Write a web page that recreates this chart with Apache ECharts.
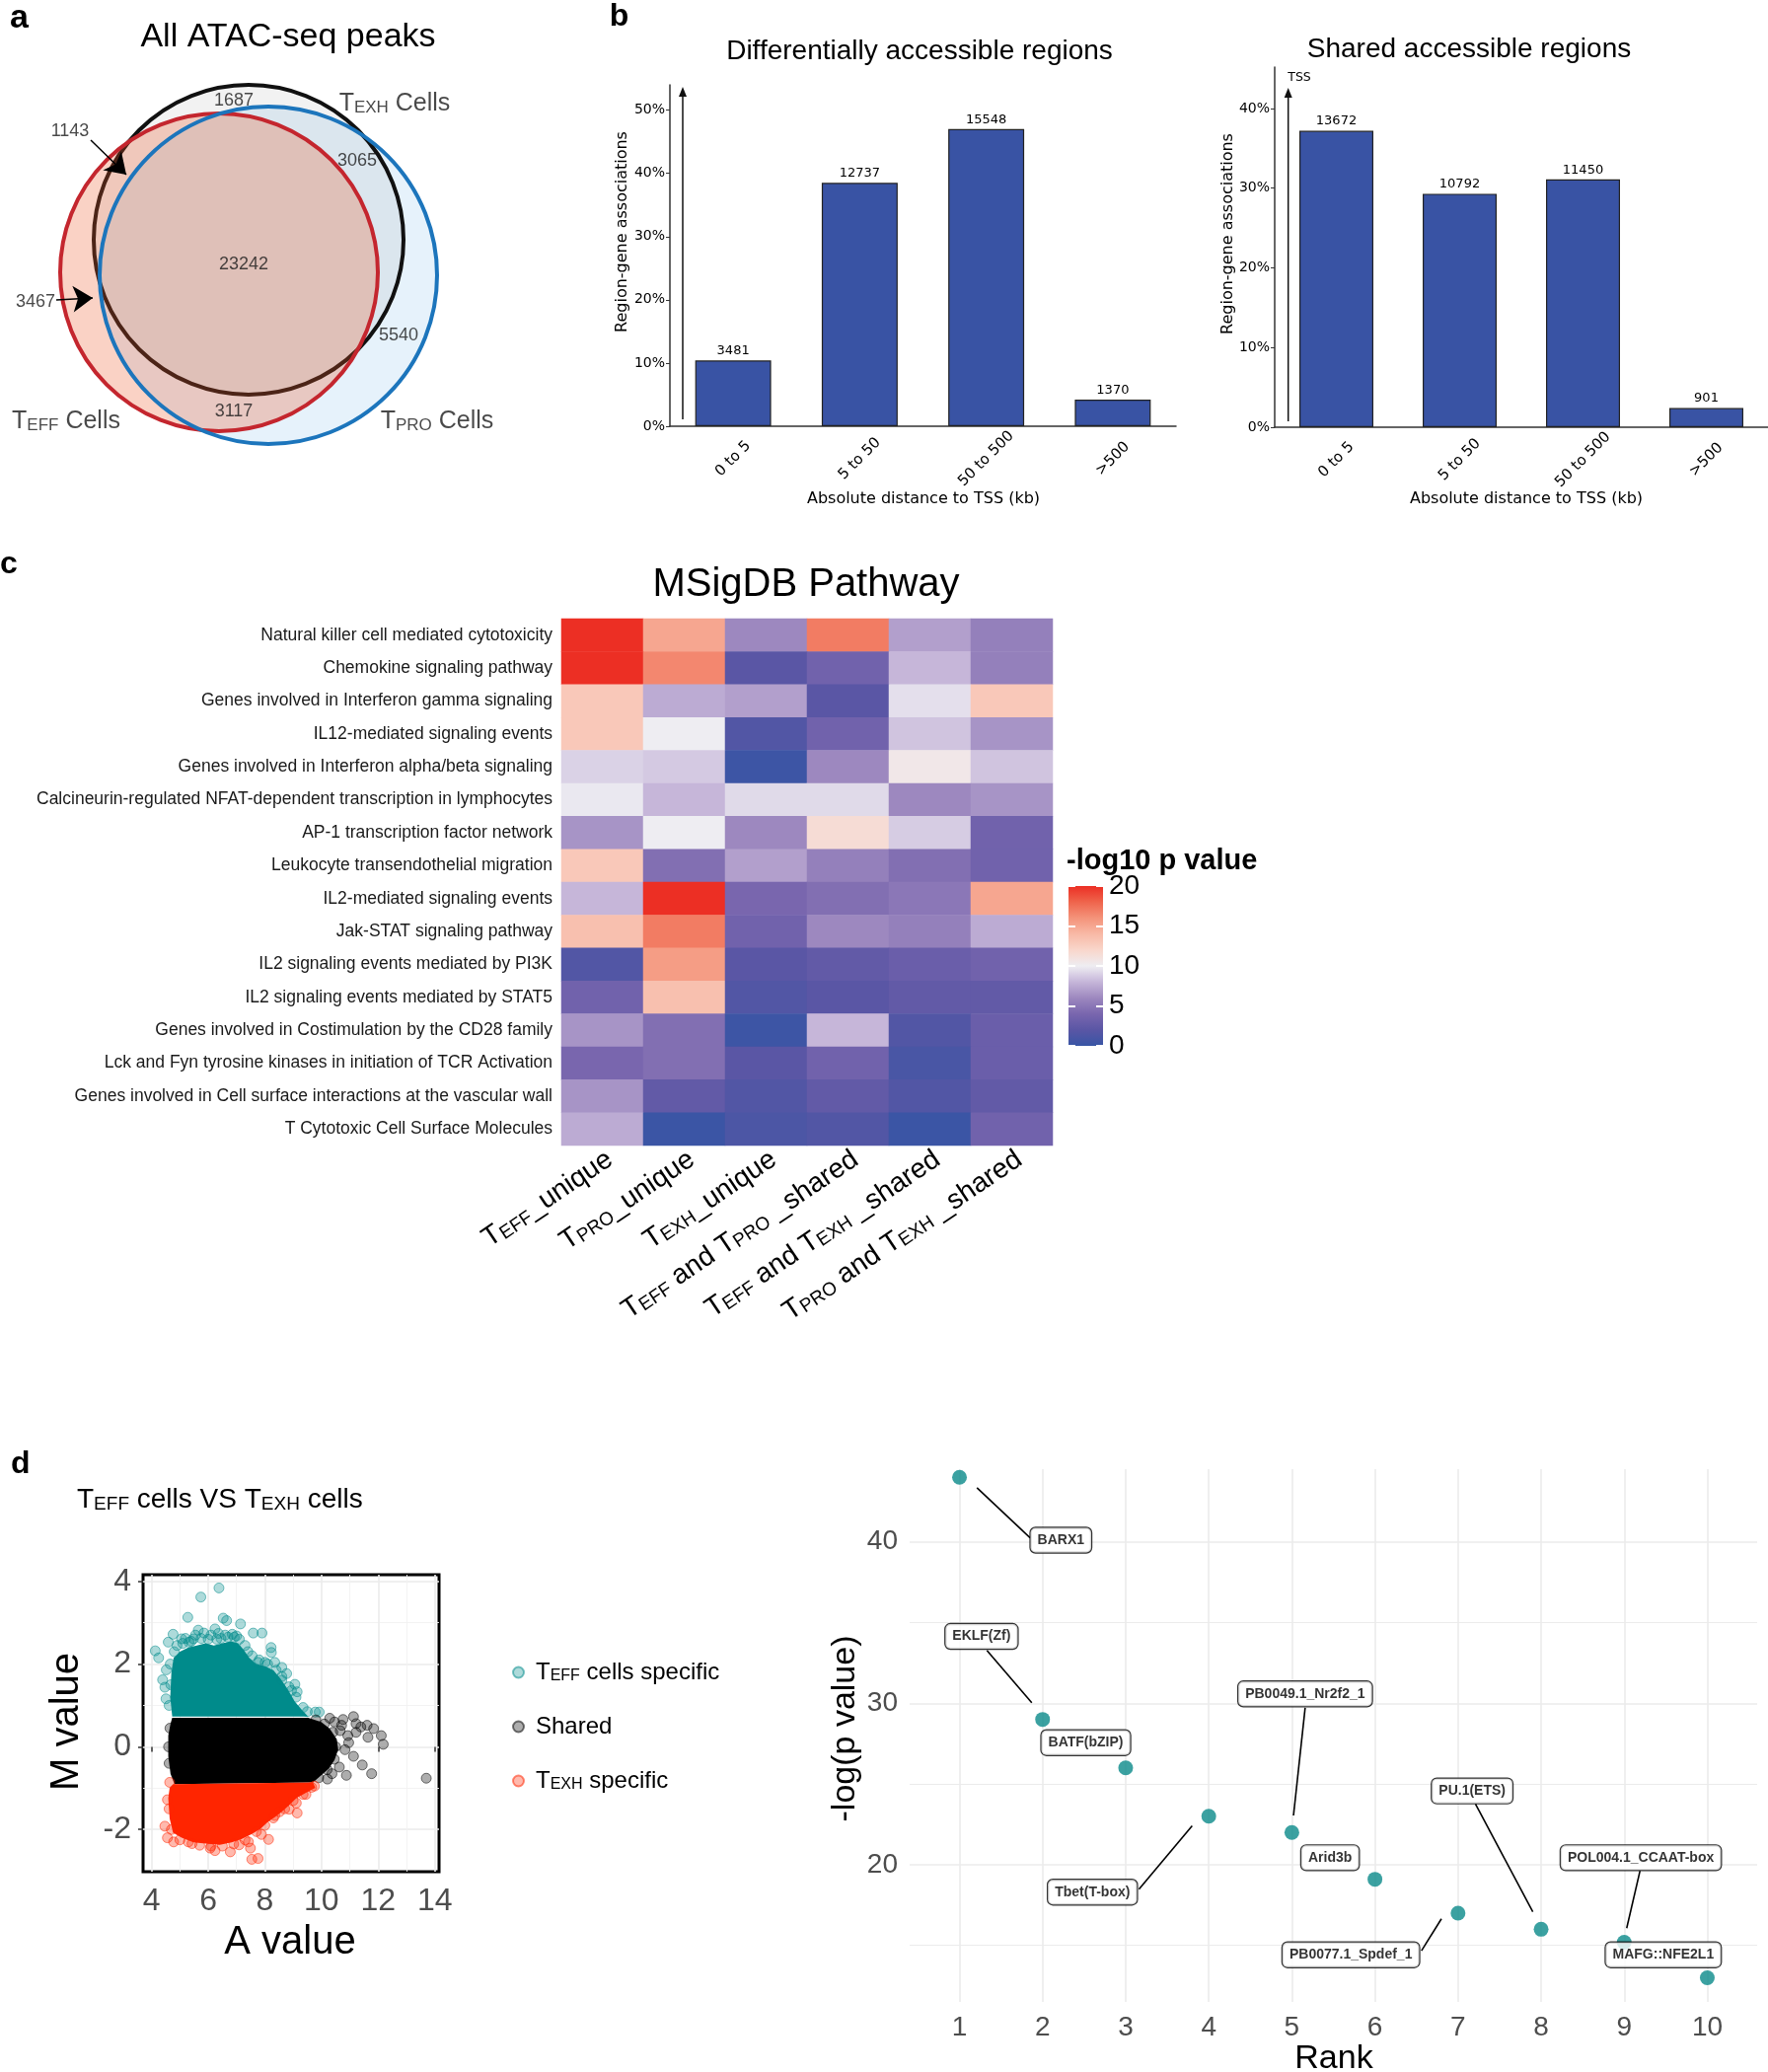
<!DOCTYPE html>
<html>
<head>
<meta charset="utf-8">
<title>ATAC-seq figure</title>
<script src="https://cdn.jsdelivr.net/npm/echarts@6.0.0/dist/echarts.min.js"></script>
<style>
html,body{margin:0;padding:0;background:#ffffff;}
#chart{width:1792px;height:2100px;}
</style>
</head>
<body>
<div id="chart"></div>
<script>
// ================= DATA =================
// ---- Panel a: Venn diagram (units of a 0..100 venn canvas) ----
const vennSets = ['TEXH', 'TEFF', 'TPRO'];
const vennCx = [50.4, 44.4, 54.4];
const vennCy = [59.4, 52.8, 52.2];
const vennR = [31.4, 32.2, 34.2];
const vennCounts = ['1687', '1143', '3065', '23242', '3467', '5540', '3117'];
const vennCountX = [47.4, 14.2, 72.4, 49.4, 7.2, 80.8, 47.4];
const vennCountY = [87.6, 81.4, 75.4, 54.4, 46.8, 40.0, 24.6];
const vennSetLabels = ['T<EXH> Cells', 'T<EFF> Cells', 'T<PRO> Cells'];
const vennSetLabelX = [80.0, 13.4, 88.6];
const vennSetLabelY = [87.0, 22.6, 22.6];
const vennArrows = [[18.4, 79.6, 25.6, 72.6], [11.4, 47.2, 18.8, 47.6]];

// ---- Panel b: distance to TSS ----
const distCats = ['0 to 5', '5 to 50', '50 to 500', '>500'];
const darPct = [10.4, 38.5, 47.0, 4.2];
const darCounts = [3481, 12737, 15548, 1370];
const sharedPct = [37.2, 29.3, 31.1, 2.4];
const sharedCounts = [13672, 10792, 11450, 901];
const darYTicks = [0, 10, 20, 30, 40, 50];
const sharedYTicks = [0, 10, 20, 30, 40];

// ---- Panel c: MSigDB pathway heatmap ----
const pathways = [
  'Natural killer cell mediated cytotoxicity',
  'Chemokine signaling pathway',
  'Genes involved in Interferon gamma signaling',
  'IL12-mediated signaling events',
  'Genes involved in Interferon alpha/beta signaling',
  'Calcineurin-regulated NFAT-dependent transcription in lymphocytes',
  'AP-1 transcription factor network',
  'Leukocyte transendothelial migration',
  'IL2-mediated signaling events',
  'Jak-STAT signaling pathway',
  'IL2 signaling events mediated by PI3K',
  'IL2 signaling events mediated by STAT5',
  'Genes involved in Costimulation by the CD28 family',
  'Lck and Fyn tyrosine kinases in initiation of TCR Activation',
  'Genes involved in Cell surface interactions at the vascular wall',
  'T Cytotoxic Cell Surface Molecules'
];
const peakGroups = [
  'T<EFF>_unique', 'T<PRO>_unique', 'T<EXH>_unique',
  'T<EFF> and T<PRO> _shared', 'T<EFF> and T<EXH> _shared', 'T<PRO> and T<EXH> _shared'
];
const heatValues = [
  [20.0, 15.0, 6.0, 17.0, 7.0, 5.5],
  [20.0, 16.5, 2.0, 3.5, 8.0, 5.5],
  [13.0, 7.5, 7.0, 2.0, 9.5, 13.0],
  [13.0, 10.0, 1.5, 3.5, 8.5, 6.5],
  [9.0, 8.7, 0.3, 6.0, 10.5, 8.5],
  [9.8, 8.0, 9.3, 9.3, 6.0, 6.5],
  [6.5, 10.0, 6.0, 11.5, 8.8, 3.5],
  [13.0, 4.5, 7.0, 5.5, 4.5, 3.5],
  [8.0, 20.0, 4.0, 4.5, 5.0, 15.0],
  [13.5, 17.0, 3.5, 6.0, 5.5, 7.5],
  [1.5, 15.5, 2.0, 2.5, 3.0, 3.5],
  [3.5, 13.5, 1.5, 2.0, 2.5, 2.5],
  [6.5, 4.5, 0.3, 8.0, 1.5, 3.0],
  [4.0, 4.5, 2.0, 3.5, 1.0, 3.0],
  [6.5, 2.5, 1.5, 2.5, 1.5, 2.5],
  [7.5, 0.2, 1.2, 1.5, 0.2, 3.5]
];
const heatMin = 0, heatMax = 20;

// ---- Panel d (left): MA plot, dense clouds outlined + sparse / edge points ----
const teffCloud = [[4.73,0.73],[4.66,1.2],[4.70,1.8],[4.78,2.15],[5.0,2.3],[5.3,2.4],[5.6,2.45],[5.9,2.5],[6.2,2.45],[6.5,2.5],[6.8,2.55],[7.05,2.5],[7.25,2.35],[7.45,2.15],[7.7,2.0],[8.0,1.95],[8.3,1.85],[8.55,1.65],[8.8,1.4],[9.05,1.1],[9.3,0.9],[9.53,0.73]];
const sharedCloud = [[4.73,0.70],[9.53,0.70],[9.99,0.60],[10.29,0.44],[10.54,0.18],[10.59,-0.07],[10.46,-0.32],[10.26,-0.53],[9.99,-0.69],[9.70,-0.86],[4.81,-0.90],[4.67,-0.65],[4.59,-0.23],[4.59,0.27],[4.67,0.56]];
const texhCloud = [[4.76,-0.90],[9.70,-0.86],[9.78,-0.99],[9.45,-1.11],[9.11,-1.24],[8.86,-1.41],[8.60,-1.57],[8.35,-1.70],[8.10,-1.82],[7.84,-1.99],[7.51,-2.12],[7.17,-2.23],[6.83,-2.31],[6.41,-2.37],[5.91,-2.34],[5.48,-2.31],[5.06,-2.20],[4.76,-2.08],[4.64,-1.74],[4.59,-1.24],[4.64,-0.99]];
const teffPoints = [[4.13,2.32],[4.25,2.15],[4.39,1.62],[4.51,1.16],[4.59,2.53],[4.76,2.72],[5.28,3.13],[5.74,3.62],[6.38,3.84],[6.53,3.11],[6.65,3.05],[7.14,2.97],[7.59,2.75],[7.90,2.75],[8.22,2.40],[8.23,2.28],[8.35,2.04],[8.60,1.92],[8.60,1.61],[9.06,1.51],[9.14,1.33],[9.78,0.84],[9.92,0.84],[5.48,2.61],[5.65,2.82],[6.24,2.85],[6.36,2.74],[5.06,2.61],[5.32,2.53],[6.92,2.65],[7.76,2.04],[8.01,2.04],[8.77,1.77],[8.94,1.36],[4.47,1.44],[4.52,1.86],
  [4.8,2.3],[4.9,2.45],[5.1,2.5],[5.2,2.62],[5.4,2.55],[5.55,2.7],[5.75,2.62],[5.85,2.75],[6.0,2.6],[6.1,2.7],[6.3,2.6],[6.45,2.62],[6.6,2.7],[6.7,2.65],[6.85,2.72],[7.0,2.68],[7.1,2.6],[7.3,2.45],[7.4,2.3],[7.55,2.2],[7.8,2.1],[8.1,2.0],[8.4,1.85],[8.6,1.7],[8.85,1.45],[9.1,1.2],[9.35,0.95],[9.5,0.85],[4.68,1.5],[4.62,1.0],[4.66,2.0]];
const sharedPoints = [[10.29,0.69],[10.76,0.66],[11.13,0.73],[11.22,0.56],[11.61,0.52],[11.84,0.44],[12.11,0.27],[12.18,0.06],[11.64,0.23],[11.22,0.35],[10.83,-0.07],[11.13,-0.23],[11.44,-0.44],[11.77,-0.65],[10.88,-0.69],[13.70,-0.76],[10.21,-0.78],[10.66,0.39],[10.96,0.10],[10.46,0.60],[10.71,0.52],[10.93,0.27],[11.39,0.48],[10.63,-0.49],[10.37,-0.65],
  [9.8,0.65],[10.1,0.55],[10.4,0.35],[10.5,0.0],[10.45,-0.3],[10.2,-0.55],[9.9,-0.75],[4.6,0.0],[4.62,-0.4],[4.65,0.45]];
const texhPoints = [[4.47,-1.92],[4.56,-2.20],[4.78,-2.30],[5.43,-2.34],[6.24,-2.51],[6.78,-2.54],[7.42,-2.30],[7.49,-2.45],[7.54,-2.72],[7.76,-2.70],[8.13,-2.24],[7.88,-2.12],[8.35,-1.66],[8.86,-1.51],[9.14,-1.60],[9.11,-1.36],[9.75,-0.95],[4.64,-0.86],[4.56,-1.28],[8.52,-1.57],[9.45,-1.15],[7.09,-2.37],[6.07,-2.45],
  [4.62,-1.5],[4.7,-2.0],[5.0,-2.25],[5.3,-2.3],[5.7,-2.38],[6.1,-2.4],[6.5,-2.4],[6.9,-2.35],[7.3,-2.25],[7.7,-2.05],[8.0,-1.9],[8.3,-1.72],[8.7,-1.5],[9.0,-1.3],[9.35,-1.15],[9.65,-0.98]];
const maXTicks = [4, 6, 8, 10, 12, 14];
const maXMinor = [5, 7, 9, 11, 13];
const maYTicks = [-2, 0, 2, 4];
const maYMinor = [-1, 1, 3];

// ---- Panel d (right): motif rank plot ----
const motifRank = [1, 2, 3, 4, 5, 6, 7, 8, 9, 10];
const motifLogP = [44.0, 29.0, 26.0, 23.0, 22.0, 19.1, 17.0, 16.0, 15.2, 13.0];
const motifNames = ['BARX1', 'EKLF(Zf)', 'BATF(bZIP)', 'Tbet(T-box)', 'PB0049.1_Nr2f2_1', 'Arid3b', 'PB0077.1_Spdef_1', 'PU.1(ETS)', 'POL004.1_CCAAT-box', 'MAFG::NFE2L1'];
const motifLabelX = [2.22, 1.265, 2.52, 2.60, 5.16, 5.46, 5.71, 7.17, 9.20, 9.47];
const motifLabelY = [40.1, 34.14, 27.56, 18.30, 30.58, 20.43, 14.42, 24.57, 20.43, 14.42];
const motifSegments = [[1.21,43.35,1.85,40.25],[1.33,33.27,1.87,30.03],[3.16,18.48,3.80,22.41],[5.16,29.72,5.02,23.05],[6.56,14.67,6.80,16.65],[7.21,23.76,7.90,17.08],[9.19,19.62,9.03,16.07]];
const rankXTicks = [1, 2, 3, 4, 5, 6, 7, 8, 9, 10];
const rankYTicks = [20, 30, 40];
const rankYMinor = [15, 25, 35];

// ================= STYLE / HELPERS =================
const ARIAL = '"Liberation Sans", Arial, Helvetica, sans-serif';
const DEJAVU = '"DejaVu Sans", sans-serif';
const heatRamp = ['#3855A5','#5A56A5','#7966AE','#9D88BF','#C6B6D9','#EEEDF2','#F9D6CB','#F8B9A6','#F4937A','#EF644C','#EC2F24'];
const TEAL = '#008B8B', RED = '#FF2500';

function subRich(str) {
  return str.replace(/<([^>]+)>|([^<]+)/g, (m, s, b) => s ? '{s|' + s + '}' : '{b|' + b + '}');
}
function richStyles(big, small, color, weight) {
  return {
    b: {fontSize: big, fontFamily: ARIAL, color: color, fill: color, fontWeight: weight || 'normal', verticalAlign: 'bottom'},
    s: {fontSize: small, fontFamily: ARIAL, color: color, fill: color, fontWeight: weight || 'normal', verticalAlign: 'bottom'},
    p: {width: 7, fontSize: big}
  };
}
function txt(text, x, y, font, opts) {
  opts = opts || {};
  return {
    type: 'text', x: x, y: y, rotation: opts.rotation || 0, z: 100,
    style: Object.assign({text: text, font: font, fill: opts.fill || '#000',
      align: opts.align || 'center', verticalAlign: opts.verticalAlign || 'middle'}, opts.extra || {})
  };
}

// layered drawing of venn circles: [set index, draw fill, draw stroke]
const vennLayers = [[2, true, false], [0, true, true], [1, true, true], [2, false, true]];
const vennFill = ['rgba(128,128,128,0.10)', 'rgba(235,90,40,0.27)', 'rgba(190,220,245,0.38)'];
const vennStroke = ['#111111', '#C4262E', '#1C75BC'];

const heatData = [];
heatValues.forEach((row, r) => row.forEach((v, c) => heatData.push([c, r, v])));

function cloudSeries(name, pts, color) {
  return {
    type: 'custom', name: name, xAxisIndex: 5, yAxisIndex: 6, silent: true, z: 2, clip: true,
    data: pts,
    renderItem: function (params, api) {
      if (params.dataIndex !== 0) return null;
      return {type: 'polygon', shape: {points: pts.map(p => api.coord(p))}, style: {fill: color}};
    }
  };
}
function pointSeries(name, pts, rgb) {
  return {
    type: 'scatter', name: name, xAxisIndex: 5, yAxisIndex: 6, symbolSize: 10, z: 3,
    data: pts,
    itemStyle: {color: 'rgba(' + rgb + ',0.4)', borderColor: 'rgba(' + rgb + ',0.65)', borderWidth: 1}
  };
}
const legendNames = {teff: 'T<EFF> cells specific', shared: 'Shared', texh: 'T<EXH> specific'};
const barXLabel = {rotate: 45, fontSize: 15, fontFamily: DEJAVU, color: '#000', margin: 33, interval: 0,
  align: 'center', verticalAlign: 'middle'};

// ================= OPTION =================
const option = {
  animation: false,
  backgroundColor: '#ffffff',
  grid: [
    {left: 0, top: 40, width: 500, height: 500},            // 0 venn
    {left: 679, top: 86, width: 513, height: 346},          // 1 DAR bars
    {left: 1292, top: 68, width: 510, height: 365},         // 2 shared bars
    {left: 569, top: 627, width: 498, height: 534},         // 3 heatmap
    {left: 1083, top: 898, width: 35, height: 162},         // 4 colorbar
    {left: 145, top: 1596, width: 300, height: 301, show: true, borderColor: '#000', borderWidth: 3, backgroundColor: '#fff'}, // 5 MA
    {left: 922, top: 1489, width: 859, height: 540}         // 6 rank
  ],
  xAxis: [
    {gridIndex: 0, type: 'value', min: 0, max: 100, show: false},
    {gridIndex: 1, type: 'category', data: distCats,
      axisLine: {lineStyle: {color: '#333', width: 1.5}}, axisTick: {show: false}, axisLabel: barXLabel},
    {gridIndex: 2, type: 'category', data: distCats,
      axisLine: {lineStyle: {color: '#333', width: 1.5}}, axisTick: {show: false}, axisLabel: barXLabel},
    {gridIndex: 3, type: 'category', data: peakGroups,
      axisLine: {show: false}, axisTick: {show: false},
      axisLabel: {rotate: 34, interval: 0, margin: 0, verticalAlign: 'top', align: 'right',
        formatter: v => subRich(v), rich: richStyles(28, 19, '#000')}},
    {gridIndex: 4, type: 'category', data: ['bar'], show: false},
    {gridIndex: 5, type: 'value', min: 3.7, max: 14.15,
      axisLine: {show: false},
      axisTick: {show: true, customValues: maXTicks, length: 5, lineStyle: {color: '#333', width: 1.5}},
      axisLabel: {customValues: maXTicks, fontSize: 32, fontFamily: ARIAL, color: '#4D4D4D', margin: 14},
      splitLine: {show: true, lineStyle: {color: '#EBEBEB', width: 1.6}}},
    {gridIndex: 5, type: 'value', min: 3.7, max: 14.15,
      axisLine: {show: false}, axisLabel: {show: false},
      axisTick: {show: false, customValues: maXMinor},
      splitLine: {show: true, lineStyle: {color: '#F2F2F2', width: 0.9}}},
    {gridIndex: 6, type: 'value', min: 0.4, max: 10.6,
      axisLine: {show: false},
      axisTick: {show: false, customValues: rankXTicks},
      axisLabel: {customValues: rankXTicks, fontSize: 28, fontFamily: ARIAL, color: '#4D4D4D', margin: 12},
      splitLine: {show: true, lineStyle: {color: '#EBEBEB', width: 1.6}}}
  ],
  yAxis: [
    {gridIndex: 0, type: 'value', min: 0, max: 100, show: false},
    {gridIndex: 1, type: 'value', min: 0, max: 54,
      axisLine: {show: true, lineStyle: {color: '#333', width: 1.5}},
      axisTick: {show: true, customValues: darYTicks, length: 4, lineStyle: {color: '#333'}},
      axisLabel: {customValues: darYTicks, formatter: '{value}%', fontSize: 14, fontFamily: DEJAVU, color: '#000', margin: 5},
      splitLine: {show: false}},
    {gridIndex: 2, type: 'value', min: 0, max: 45.2,
      axisLine: {show: true, lineStyle: {color: '#333', width: 1.5}},
      axisTick: {show: true, customValues: sharedYTicks, length: 4, lineStyle: {color: '#333'}},
      axisLabel: {customValues: sharedYTicks, formatter: '{value}%', fontSize: 14, fontFamily: DEJAVU, color: '#000', margin: 5},
      splitLine: {show: false}},
    {gridIndex: 3, type: 'category', data: pathways, inverse: true,
      axisLine: {show: false}, axisTick: {show: false},
      axisLabel: {fontSize: 17.5, fontFamily: ARIAL, color: '#1a1a1a', margin: 9, interval: 0}},
    {gridIndex: 4, type: 'value', min: heatMin, max: heatMax, interval: 5, position: 'right', z: 10,
      axisLine: {show: false},
      axisTick: {show: true, inside: true, length: 7, lineStyle: {color: '#fff', width: 2}},
      axisLabel: {fontSize: 28, fontFamily: ARIAL, color: '#000', margin: 6},
      splitLine: {show: false}},
    {gridIndex: 4, type: 'value', min: heatMin, max: heatMax, interval: 5, position: 'left', z: 10,
      axisLine: {show: false}, axisLabel: {show: false},
      axisTick: {show: true, inside: true, length: 7, lineStyle: {color: '#fff', width: 2}},
      splitLine: {show: false}},
    {gridIndex: 5, type: 'value', min: -3.02, max: 4.16,
      axisLine: {show: false},
      axisTick: {show: true, customValues: maYTicks, length: 5, lineStyle: {color: '#333', width: 1.5}},
      axisLabel: {customValues: maYTicks, fontSize: 32, fontFamily: ARIAL, color: '#4D4D4D', margin: 12},
      splitLine: {show: true, lineStyle: {color: '#EBEBEB', width: 1.6}}},
    {gridIndex: 5, type: 'value', min: -3.02, max: 4.16,
      axisLine: {show: false}, axisLabel: {show: false},
      axisTick: {show: false, customValues: maYMinor},
      splitLine: {show: true, lineStyle: {color: '#F2F2F2', width: 0.9}}},
    {gridIndex: 6, type: 'value', min: 11.5, max: 44.5,
      axisLine: {show: false},
      axisTick: {show: false, customValues: rankYTicks},
      axisLabel: {customValues: rankYTicks, fontSize: 28, fontFamily: ARIAL, color: '#4D4D4D', margin: 12},
      splitLine: {show: true, lineStyle: {color: '#EBEBEB', width: 1.6}}},
    {gridIndex: 6, type: 'value', min: 11.5, max: 44.5,
      axisLine: {show: false}, axisLabel: {show: false},
      axisTick: {show: false, customValues: rankYMinor},
      splitLine: {show: true, lineStyle: {color: '#EBEBEB', width: 1.2}}}
  ],
  visualMap: {
    show: false, type: 'continuous', min: heatMin, max: heatMax, dimension: 2, seriesIndex: 6,
    inRange: {color: heatRamp}
  },
  legend: {
    data: ['teff', 'shared', 'texh'], orient: 'vertical', left: 514, top: 1678,
    itemGap: 31, icon: 'circle', itemWidth: 11, itemHeight: 11, selectedMode: false,
    formatter: name => '{p| }' + subRich(legendNames[name]),
    textStyle: {rich: richStyles(24, 16, '#000')}
  },
  series: [
    // 0 venn circles
    {type: 'custom', xAxisIndex: 0, yAxisIndex: 0, silent: true, z: 2,
      data: vennLayers.map(l => [vennCx[l[0]], vennCy[l[0]], l[0]]),
      renderItem: function (params, api) {
        const l = vennLayers[params.dataIndex];
        const i = l[0];
        const c = api.coord([vennCx[i], vennCy[i]]);
        const r = api.size([vennR[i], 0])[0];
        return {type: 'circle', shape: {cx: c[0], cy: c[1], r: r},
          style: {fill: l[1] ? vennFill[i] : 'none', stroke: l[2] ? vennStroke[i] : 'none', lineWidth: 4}};
      }},
    // 1 venn arrows
    {type: 'lines', coordinateSystem: 'cartesian2d', xAxisIndex: 0, yAxisIndex: 0, z: 5, silent: true,
      symbol: ['none', 'arrow'], symbolSize: 20,
      lineStyle: {color: '#000', width: 1.5, opacity: 1},
      data: vennArrows.map(a => ({coords: [[a[0], a[1]], [a[2], a[3]]]}))},
    // 2 venn counts
    {type: 'scatter', xAxisIndex: 0, yAxisIndex: 0, symbolSize: 1, z: 6, silent: true,
      itemStyle: {color: 'transparent'},
      data: vennCountX.map((x, i) => [x, vennCountY[i]]),
      label: {show: true, position: 'inside', formatter: p => vennCounts[p.dataIndex],
        fontSize: 18, fontFamily: ARIAL, color: '#1a1a1a'}},
    // 3 venn set labels
    {type: 'scatter', xAxisIndex: 0, yAxisIndex: 0, symbolSize: 1, z: 6, silent: true,
      itemStyle: {color: 'transparent'},
      data: vennSetLabelX.map((x, i) => [x, vennSetLabelY[i]]),
      label: {show: true, position: 'inside', formatter: p => subRich(vennSetLabels[p.dataIndex]),
        rich: richStyles(25, 17, '#1a1a1a')}},
    // 4 DAR bars
    {type: 'bar', xAxisIndex: 1, yAxisIndex: 1, data: darPct, barWidth: '60%',
      itemStyle: {color: '#3953A4', borderColor: '#222', borderWidth: 1.2},
      label: {show: true, position: 'top', distance: 3, formatter: p => String(darCounts[p.dataIndex]),
        fontSize: 13, fontFamily: DEJAVU, color: '#000'}},
    // 5 shared bars
    {type: 'bar', xAxisIndex: 2, yAxisIndex: 2, data: sharedPct, barWidth: '60%',
      itemStyle: {color: '#3953A4', borderColor: '#222', borderWidth: 1.2},
      label: {show: true, position: 'top', distance: 3, formatter: p => String(sharedCounts[p.dataIndex]),
        fontSize: 13, fontFamily: DEJAVU, color: '#000'}},
    // 6 heatmap
    {type: 'heatmap', xAxisIndex: 3, yAxisIndex: 3, data: heatData, itemStyle: {borderWidth: 0}},
    // 7 colorbar
    {type: 'bar', xAxisIndex: 4, yAxisIndex: 4, data: [heatMax], barWidth: '100%', silent: true, z: 1,
      itemStyle: {color: new echarts.graphic.LinearGradient(0, 0, 0, 1,
        heatRamp.map((c, i) => ({offset: 1 - i / (heatRamp.length - 1), color: c})).reverse())}},
    // 8-10 MA dense clouds
    cloudSeries('teffCloud', teffCloud, TEAL),
    cloudSeries('sharedCloud', sharedCloud, '#000'),
    cloudSeries('texhCloud', texhCloud, RED),
    // 11-13 MA sparse points
    pointSeries('teff', teffPoints, '0,139,139'),
    pointSeries('shared', sharedPoints, '0,0,0'),
    pointSeries('texh', texhPoints, '255,37,0'),
    // 14 rank points
    {type: 'scatter', xAxisIndex: 7, yAxisIndex: 8, symbolSize: 15, z: 3,
      itemStyle: {color: '#0A8A8A'},
      data: motifRank.map((r, i) => [r, motifLogP[i]])},
    // 15 rank segments
    {type: 'lines', coordinateSystem: 'cartesian2d', xAxisIndex: 7, yAxisIndex: 8, z: 4, silent: true,
      lineStyle: {color: '#000', width: 1.6, opacity: 1},
      data: motifSegments.map(s => ({coords: [[s[0], s[1]], [s[2], s[3]]]}))},
    // 16 rank labels
    {type: 'scatter', xAxisIndex: 7, yAxisIndex: 8, symbolSize: 1, z: 5, silent: true,
      itemStyle: {color: 'transparent'},
      data: motifLabelX.map((x, i) => [x, motifLabelY[i]]),
      label: {show: true, position: 'inside', formatter: p => motifNames[p.dataIndex],
        fontSize: 14, fontWeight: 'bold', fontFamily: ARIAL, color: '#000',
        backgroundColor: '#fff', borderColor: '#000', borderWidth: 1.2, borderRadius: 5, padding: [6, 7, 5, 7]}}
  ],
  graphic: [
    txt('a', 19.5, 19, 'bold 34px ' + ARIAL),
    txt('b', 627.5, 17, 'bold 32px ' + ARIAL),
    txt('c', 9, 572, 'bold 32px ' + ARIAL),
    txt('d', 20.7, 1484, 'bold 32px ' + ARIAL),
    txt('All ATAC-seq peaks', 292, 38, '34px ' + ARIAL),
    txt('Differentially accessible regions', 932, 52, '28px ' + ARIAL),
    txt('Shared accessible regions', 1489, 50, '28px ' + ARIAL),
    txt('Region-gene associations', 631, 235, '16px ' + DEJAVU, {rotation: Math.PI / 2}),
    txt('Region-gene associations', 1244.5, 237, '16px ' + DEJAVU, {rotation: Math.PI / 2}),
    txt('Absolute distance to TSS (kb)', 936, 506, '16px ' + DEJAVU),
    txt('Absolute distance to TSS (kb)', 1547, 506, '16px ' + DEJAVU),
    txt('TSS', 1317, 79, '12.5px ' + DEJAVU),
    {type: 'line', z: 100, shape: {x1: 692, y1: 425, x2: 692, y2: 96}, style: {stroke: '#111', lineWidth: 1.5}},
    {type: 'polygon', z: 100, shape: {points: [[692, 88], [688, 98], [696, 98]]}, style: {fill: '#111'}},
    {type: 'line', z: 100, shape: {x1: 1305.7, y1: 427, x2: 1305.7, y2: 97}, style: {stroke: '#111', lineWidth: 1.5}},
    {type: 'polygon', z: 100, shape: {points: [[1305.7, 89], [1301.7, 99], [1309.7, 99]]}, style: {fill: '#111'}},
    txt('MSigDB Pathway', 817, 593, '40px ' + ARIAL),
    txt('-log10 p value', 1081, 873, 'bold 29px ' + ARIAL, {align: 'left'}),
    txt(subRich('T<EFF> cells VS T<EXH> cells'), 78, 1520, '28px ' + ARIAL,
      {align: 'left', extra: {rich: richStyles(28, 19, '#000')}}),
    txt('A value', 294, 1969, '40px ' + ARIAL),
    txt('M value', 68, 1745, '40px ' + ARIAL, {rotation: Math.PI / 2}),
    txt('-log(p value)', 857, 1752, '34px ' + ARIAL, {rotation: Math.PI / 2}),
    txt('Rank', 1352, 2087, '34px ' + ARIAL)
  ]
};

const chart = echarts.init(document.getElementById('chart'), null, {width: 1792, height: 2100, renderer: 'canvas'});
chart.setOption(option);
</script>
</body>
</html>
